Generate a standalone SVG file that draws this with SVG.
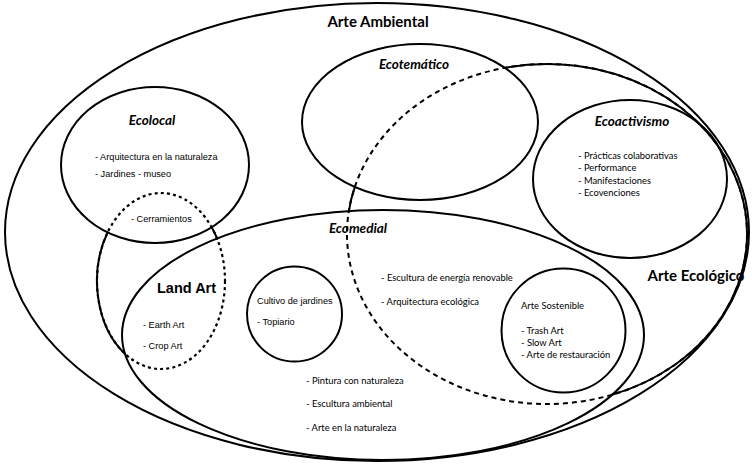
<svg xmlns="http://www.w3.org/2000/svg" width="752" height="467" viewBox="0 0 752 467">
<style>
.ln{fill:none;stroke:#000;stroke-width:2}
.d1{fill:none;stroke:#000;stroke-width:2;stroke-dasharray:5 4}
.d2{fill:none;stroke:#000;stroke-width:2.2;stroke-dasharray:3 3.2}
.h{font-family:Lato,"Open Sans",sans-serif;font-weight:bold;fill:#000}
.hi{font-family:Lato,"Open Sans",sans-serif;font-weight:bold;font-style:italic;font-size:13.5px;fill:#000;text-anchor:middle}
.t{font-family:Lato,"Open Sans",sans-serif;font-size:9.4px;fill:#000}
.a{font-family:"Liberation Sans",Arial,sans-serif;font-size:9.2px;fill:#000}
</style>
<rect width="752" height="467" fill="#fff"/>
<g id="connectors">
<!-- Arte Ecológico dashed/solid outline -->
<ellipse class="d1" cx="547" cy="234" rx="200" ry="170"/>
<path class="ln" d="M 503.71 68.03 A 200 170 0 0 1 611.12 395.03"/>
<path class="ln" d="M 348.71 211.81 A 200 170 0 0 1 355.24 185.72"/>
<!-- Land Art outline -->
<ellipse class="d2" cx="161" cy="281" rx="64" ry="88"/>
<path class="ln" d="M 125.21 353.95 A 64 88 0 0 1 107.94 231.80"/>
<path class="ln" d="M 211.43 226.82 A 64 88 0 0 1 217.51 239.68"/>
</g>
<g id="arte-ambiental">
<ellipse class="ln" cx="377" cy="232" rx="372" ry="229"/>
<text class="h" x="378" y="27" font-size="15" text-anchor="middle">Arte Ambiental</text>
</g>
<g id="ecolocal">
<ellipse class="ln" cx="155" cy="165" rx="94" ry="78"/>
<text class="hi" x="152" y="125">Ecolocal</text>
<text class="a" x="95" y="159.5">- Arquitectura en la naturaleza</text>
<text class="a" x="95" y="177">- Jardines - museo</text>
<text class="a" x="131" y="222">- Cerramientos</text>
</g>
<g id="ecotematico">
<ellipse class="ln" cx="420" cy="122" rx="118" ry="78"/>
<text class="hi" x="414" y="69">Ecotemático</text>
</g>
<g id="ecoactivismo">
<ellipse class="ln" cx="630" cy="179" rx="97" ry="79"/>
<text class="hi" x="632" y="126">Ecoactivismo</text>
<text class="t" x="578" y="159">- Prácticas colaborativas</text>
<text class="t" x="578" y="171">- Performance</text>
<text class="t" x="578" y="183.5">- Manifestaciones</text>
<text class="t" x="578" y="196">- Ecovenciones</text>
</g>
<g id="ecomedial">
<ellipse class="ln" cx="383" cy="335" rx="261" ry="125"/>
<text class="hi" x="358" y="233">Ecomedial</text>
<text class="t" x="381" y="280.5">- Escultura de energía renovable</text>
<text class="t" x="381" y="304.5">- Arquitectura ecológica</text>
<text class="t" x="306" y="383.5">- Pintura con naturaleza</text>
<text class="t" x="306" y="406.5">- Escultura ambiental</text>
<text class="t" x="306" y="431">- Arte en la naturaleza</text>
</g>
<g id="land-art">
<text x="157" y="293" font-family="'Liberation Sans',Arial,sans-serif" font-weight="bold" font-size="14.5">Land Art</text>
<text class="a" x="143" y="327.5">- Earth Art</text>
<text class="a" x="143" y="348.5">- Crop Art</text>
</g>
<g id="cultivo">
<circle class="ln" cx="294.5" cy="314" r="47.5"/>
<text class="a" x="257" y="304">Cultivo de jardines</text>
<text class="a" x="257" y="325">- Topiario</text>
</g>
<g id="arte-sostenible">
<circle class="ln" cx="563.5" cy="330.5" r="62"/>
<text class="t" x="521" y="309">Arte Sostenible</text>
<text class="t" x="521" y="334">- Trash Art</text>
<text class="t" x="521" y="346">- Slow Art</text>
<text class="t" x="521" y="358">- Arte de restauración</text>
</g>
<g id="arte-ecologico">
<text class="h" x="696" y="281" font-size="15" text-anchor="middle">Arte Ecológico</text>
</g>
</svg>
